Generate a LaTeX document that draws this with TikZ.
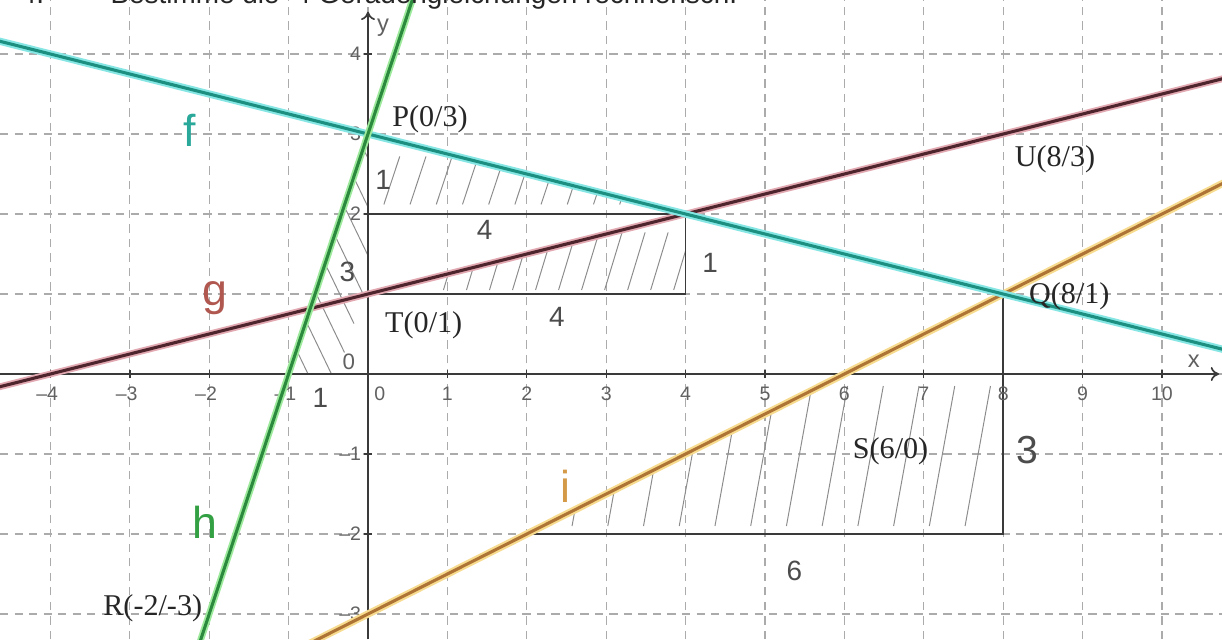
\documentclass[tikz,border=0pt]{standalone}
\usepackage{fontspec}
\setmainfont{Liberation Serif}
\setsansfont{Liberation Sans}
\usetikzlibrary{arrows.meta}

\definecolor{fcol}{HTML}{1C8F80}
\definecolor{fglow}{HTML}{86E6E4}
\definecolor{gcol}{HTML}{4E252C}
\definecolor{gglow}{HTML}{E2A9B2}
\definecolor{hcol}{HTML}{2C8A3E}
\definecolor{hglow}{HTML}{9EEA9C}
\definecolor{icol}{HTML}{AE7436}
\definecolor{iglow}{HTML}{F7DB8E}
\definecolor{gridcol}{HTML}{ABABAB}
\definecolor{axiscol}{HTML}{3A3A3A}
\definecolor{pencil}{HTML}{8C8C8C}
\definecolor{fname}{HTML}{2AA89A}
\definecolor{gname}{HTML}{B0584F}
\definecolor{hname}{HTML}{34A044}
\definecolor{iname}{HTML}{D49A48}

\tikzset{
	gridline/.style={gridcol, line width=0.45pt, dash pattern=on 3pt off 2.2pt},
	axisline/.style={axiscol, line width=0.6pt, -{To[length=3pt,width=5pt]}},
	tickmark/.style={axiscol, line width=0.5pt},
	ticklabel/.style={font=\sffamily\fontsize{7}{8}\selectfont, text=black!62, inner sep=0pt},
	pointlabel/.style={font=\fontsize{10.8}{12}\selectfont, text=black!85, inner sep=0pt, anchor=west},
	slopeline/.style={axiscol, line width=0.6pt},
	hatch/.style={pencil, line width=0.35pt},
	handnum/.style={font=\sffamily\fontsize{10}{12}\selectfont, text=black!70, inner sep=0pt},
	linename/.style={font=\sffamily\fontsize{16}{18}\selectfont, inner sep=0pt},
	tasktext/.style={font=\sffamily\fontsize{10}{12}\selectfont, text=black!85, anchor=base west, inner sep=0pt},
	fline/.style={fcol, line width=1.1pt, preaction={draw=fglow, line width=2.6pt}},
	gline/.style={gcol, line width=1.1pt, preaction={draw=gglow, line width=2.4pt}},
	hline/.style={hcol, line width=1.1pt, preaction={draw=hglow, line width=2.4pt}},
	iline/.style={icol, line width=1.1pt, preaction={draw=iglow, line width=2.6pt}},
}

\begin{document}
\begin{tikzpicture}[x=1cm, y=1.0076cm]
	\def\xmin{-4.635}
	\def\xmax{10.756}
	\def\ymin{-3.3125}
	\def\ymax{4.675}
	\clip (\xmin,\ymin) rectangle (\xmax,\ymax);
	\fill[white] (\xmin,\ymin) rectangle (\xmax,\ymax);

	\foreach \c in {-4,-3,...,10}
	{
		\draw[gridline] (\c,\ymin) -- (\c,\ymax);
	}
	\foreach \r in {-3,-2,...,4}
	{
		\draw[gridline] (\xmin,\r) -- (\xmax,\r);
	}

	\coordinate (P) at (0,3);
	\coordinate (Q) at (8,1);
	\coordinate (R) at (-2,-3);
	\coordinate (S) at (6,0);
	\coordinate (T) at (0,1);
	\coordinate (U) at (8,3);
	\coordinate (M) at (4,2);
	\coordinate (Y2) at (0,2);
	\coordinate (N) at (4,1);
	\coordinate (V) at (2,-2);
	\coordinate (W) at (8,-2);
	\coordinate (H0) at (-1,0);
	\coordinate (O) at (0,0);

	\begin{scope}
		\clip (P) -- (Y2) -- (M) -- cycle;
		\foreach \k in {0,1,...,9}
		{
			\draw[hatch] (0.2+0.33*\k,2.12) -- ++(0.2,0.6);
		}
	\end{scope}
	\begin{scope}
		\clip (T) -- (M) -- (N) -- cycle;
		\foreach \k in {0,1,...,10}
		{
			\draw[hatch] (0.95+0.29*\k,1.05) -- ++(0.22,0.72);
		}
	\end{scope}
	\begin{scope}
		\clip (H0) -- (P) -- (O) -- cycle;
		\foreach \k in {0,1,...,7}
		{
			\draw[hatch] ({(0.25+0.36*\k-3)/3+0.04},0.25+0.36*\k) -- ++(0.34,-0.7);
		}
	\end{scope}
	\begin{scope}
		\clip (V) -- (W) -- (Q) -- cycle;
		\foreach \k in {0,1,...,12}
		{
			\draw[hatch] (2.12+0.45*\k,-1.9) -- ++(0.32,1.75);
		}
	\end{scope}

	\draw[slopeline] (Y2) -- (M) -- (N) -- (T);
	\draw[slopeline] (V) -- (W) -- (Q);

	\draw[axisline] (\xmin,0) -- (10.72,0);
	\draw[axisline] (0,\ymin) -- (0,4.53);
	\foreach \c in {-4,-3,...,10}
	{
		\draw[tickmark] (\c,-0.05) -- (\c,0.05);
	}
	\foreach \r in {-3,-2,...,4}
	{
		\draw[tickmark] (-0.05,\r) -- (0.05,\r);
	}
	\foreach \c in {1,2,3,4}
	{
		\node[ticklabel] (xm\c) at (-\c-0.04,-0.25) {--\c};
		\node[ticklabel] (xp\c) at (\c,-0.25) {\c};
	}
	\foreach \c in {5,6,...,10}
	{
		\node[ticklabel] (xp\c) at (\c,-0.25) {\c};
	}
	\node[ticklabel] (xp0) at (0.15,-0.25) {0};
	\foreach \r in {2,3,4}
	{
		\node[ticklabel, anchor=east] (yp\r) at (-0.08,\r) {\r};
	}
	\foreach \r in {1,2,3}
	{
		\node[ticklabel, anchor=east] (ym\r) at (-0.08,-\r) {--\r};
	}
	\node[ticklabel, font=\sffamily\fontsize{8.5}{9}\selectfont] (xname) at (10.4,0.16) {x};
	\node[ticklabel, font=\sffamily\fontsize{8.5}{9}\selectfont] (yname) at (0.19,4.33) {y};
	\node[ticklabel, font=\sffamily\fontsize{8}{9}\selectfont] (zero) at (-0.24,0.15) {0};

	\draw[gline] (-4.7,-0.175) -- (T) -- (M) -- (U) -- (10.8,3.7);
	\draw[iline] (-0.8,-3.4) -- (V) -- (S) -- (Q) -- (10.8,2.4);
	\draw[fline] (-4.7,4.175) -- (P) -- (M) -- (Q) -- (10.8,0.3);
	\draw[hline] (-2.1333,-3.4) -- (R) -- (H0) -- (P) -- (0.5667,4.7);

	\node[linename, text=fname] (flab) at (-2.24,3.05) {f};
	\node[linename, text=gname] (glab) at (-1.93,0.95) {g};
	\node[linename, text=hname] (hlab) at (-2.05,-1.86) {h};
	\node[linename, text=iname] (ilab) at (2.49,-1.4) {i};

	\node[pointlabel] (Plab) at (0.3,3.19) {P(0/3)};
	\node[pointlabel] (Ulab) at (8.14,2.68) {U(8/3)};
	\node[pointlabel] (Qlab) at (8.32,0.97) {Q(8/1)};
	\node[pointlabel] (Tlab) at (0.21,0.61) {T(0/1)};
	\node[pointlabel] (Slab) at (6.1,-0.97) {S(6/0)};
	\node[pointlabel] (Rlab) at (-3.34,-2.93) {R(-2/-3)};

	\node[handnum] (run1) at (1.47,1.8) {4};
	\node[handnum] (rise1) at (4.31,1.39) {1};
	\node[handnum] (run2) at (2.38,0.71) {4};
	\node[handnum] (rise2) at (0.19,2.43) {1};
	\node[handnum] (rise3) at (-0.26,1.28) {3};
	\node[handnum] (run3) at (-0.6,-0.3) {1};
	\node[handnum, font=\sffamily\fontsize{14}{16}\selectfont] (rise4) at (8.3,-0.95) {3};
	\node[handnum] (run4) at (5.37,-2.46) {6};

	\node[tasktext] (tasknum) at (-4.38,4.63) {4.};
	\node[tasktext] (task) at (-3.25,4.63) {Bestimme die\ \ 4 Geradengleichungen rechnerisch.};
\end{tikzpicture}
\end{document}
